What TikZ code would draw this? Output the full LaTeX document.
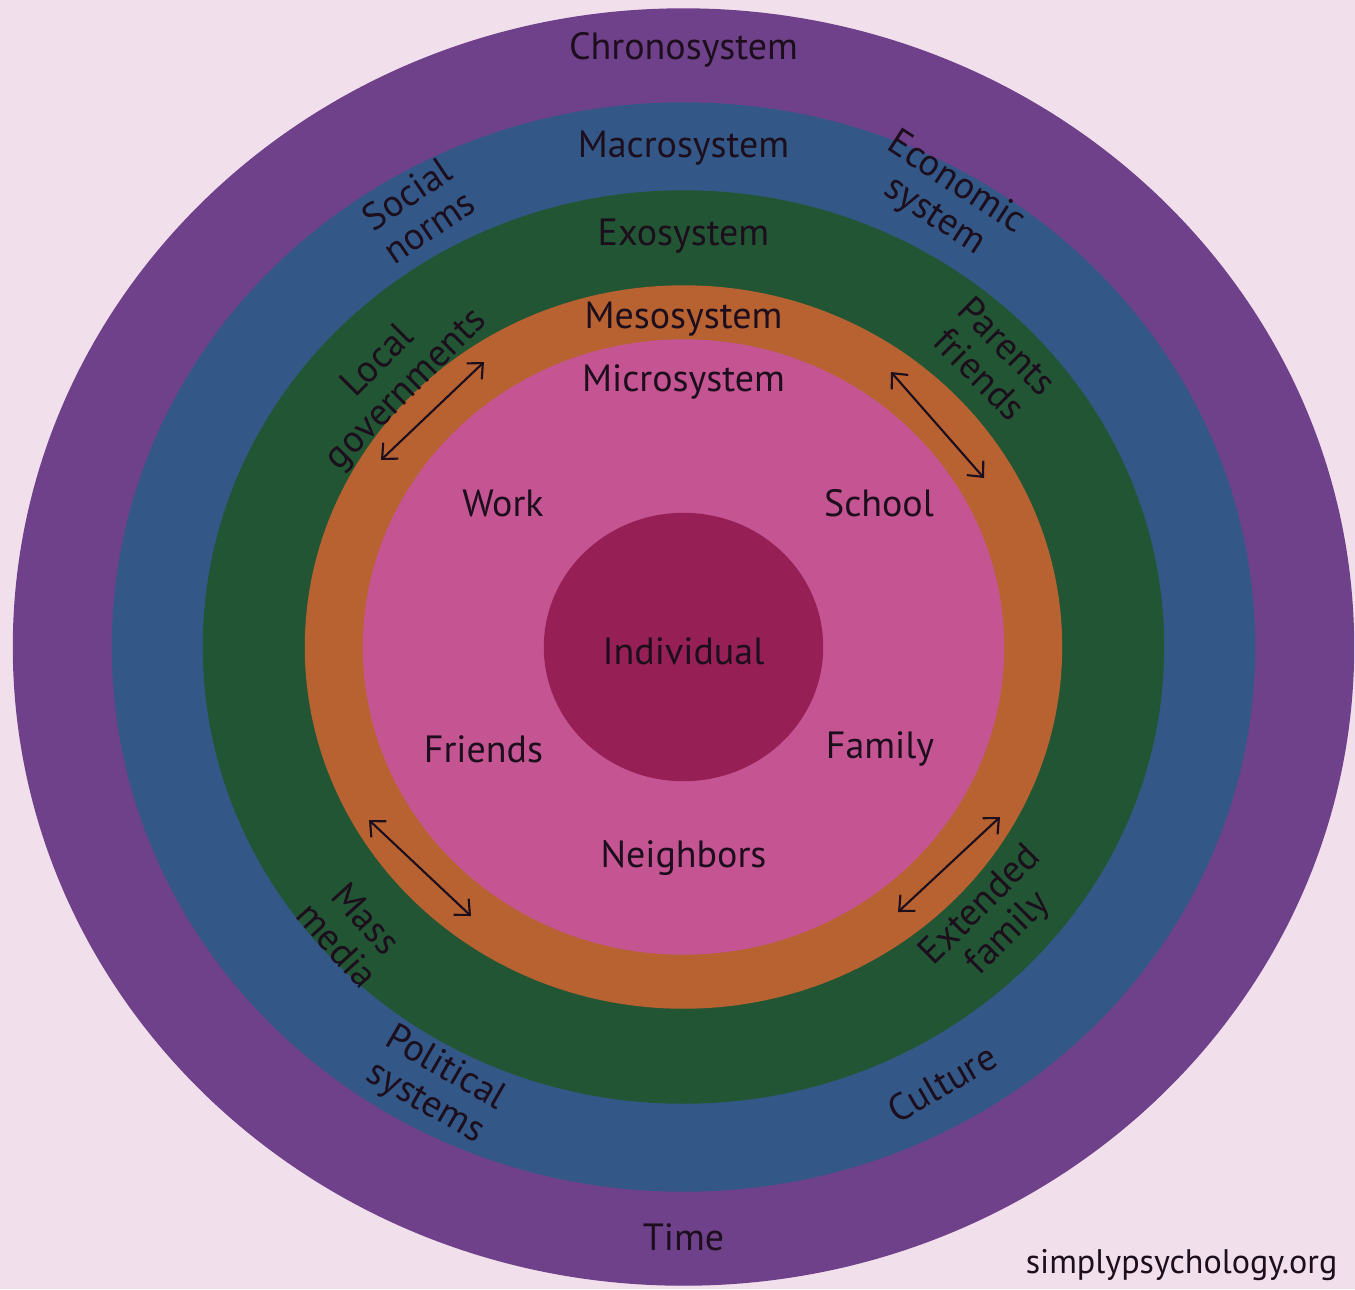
\documentclass[tikz,border=0pt]{standalone}
\usepackage{fontspec}
\setmainfont{PT Sans}
\usepackage[rgb]{xcolor}
\usepackage{tikz}
\usetikzlibrary{arrows.meta}

\definecolor{paper}{HTML}{F2DFEC}
\definecolor{chrono}{HTML}{6F418A}
\definecolor{macro}{HTML}{335887}
\definecolor{exo}{HTML}{225533}
\definecolor{meso}{HTML}{B86232}
\definecolor{micro}{HTML}{C45592}
\definecolor{indiv}{HTML}{962056}
\definecolor{ink}{HTML}{1C0E1C}

\tikzset{
  lbl/.style={text=ink, font=\fontsize{10.8}{11.2}\selectfont, align=center, inner sep=0pt},
  link/.style={{Straight Barb[length=1.2mm, width=2.2mm]}-{Straight Barb[length=1.2mm, width=2.2mm]}, draw=ink, line width=0.6pt}
}

\begin{document}
\begin{tikzpicture}[scale=1, rotate=0]

% Background
\fill[paper] (-6.835,-6.42) rectangle (6.715,6.47);

% Rings, outside in
\filldraw[fill=chrono, draw=chrono] (0,0) ellipse [x radius=6.70, y radius=6.38];
\filldraw[fill=macro, draw=macro] (0,0) ellipse [x radius=5.71, y radius=5.44];
\filldraw[fill=exo, draw=exo] (0,0) ellipse [x radius=4.80, y radius=4.56];
\filldraw[fill=meso, draw=meso] (0,0) ellipse [x radius=3.78, y radius=3.61];
\filldraw[fill=micro, draw=micro] (0,0) ellipse [x radius=3.20, y radius=3.07];
\filldraw[fill=indiv, draw=indiv] (0,0) ellipse [x radius=1.39, y radius=1.335];


% System names
\path
(0, 5.97) node[lbl] (chrononame) {Chronosystem}
(0, 4.99) node[lbl] (macroname) {Macrosystem}
(0, 4.11) node[lbl] (exoname) {Exosystem}
(0, 3.28) node[lbl] (mesoname) {Mesosystem}
(0, 2.65) node[lbl] (microname) {Microsystem}
(0,-0.04) node[lbl] (individual) {Individual};

% Microsystem
\path
(-1.805, 1.44) node[lbl] (work) {Work}
(1.955, 1.44) node[lbl] (school) {School}
(-2.00,-1.02) node[lbl] (friends) {Friends}
(1.965,-1.02) node[lbl] (family) {Family}
(0,-2.11) node[lbl] (neighbors) {Neighbors};

% Exosystem
\path
(-2.905, 2.71) node[lbl, rotate=45] (localgov) {Local\\governments}
(3.105, 2.87) node[lbl, rotate=-45] (parentsfr) {Parents\\friends}
(-3.315,-2.85) node[lbl, rotate=-48] (massmedia) {Mass\\media}
(3.115,-2.73) node[lbl, rotate=45] (extfamily) {Extended\\family};

% Macrosystem
\path
(-2.655, 4.37) node[lbl, rotate=34] (socnorms) {Social\\norms}
(2.615, 4.47) node[lbl, rotate=-33] (econsys) {Economic\\system}
(-2.485,-4.39) node[lbl, rotate=-30] (politsys) {Political\\systems}
(2.585,-4.36) node[lbl, rotate=30] (culture) {Culture};

% Chronosystem
\path
(0,-5.90) node[lbl] (time) {Time}
(6.545,-6.18) node[lbl, anchor=east, font=\fontsize{9.7}{11}\selectfont] (source) {simplypsychology.org};


% Mesosystem links
\coordinate (tlin) at (-3.025, 1.87);
\coordinate (tlout) at (-1.995, 2.85);
\coordinate (trin) at (2.075, 2.75);
\coordinate (trout) at (3.005, 1.69);
\coordinate (blin) at (-3.145,-1.73);
\coordinate (blout) at (-2.125,-2.69);
\coordinate (brin) at (3.165,-1.70);
\coordinate (brout) at (2.145,-2.65);

\draw[link] (tlin) -- (tlout);
\draw[link] (trin) -- (trout);
\draw[link] (blin) -- (blout);
\draw[link] (brin) -- (brout);

\end{tikzpicture}
\end{document}
